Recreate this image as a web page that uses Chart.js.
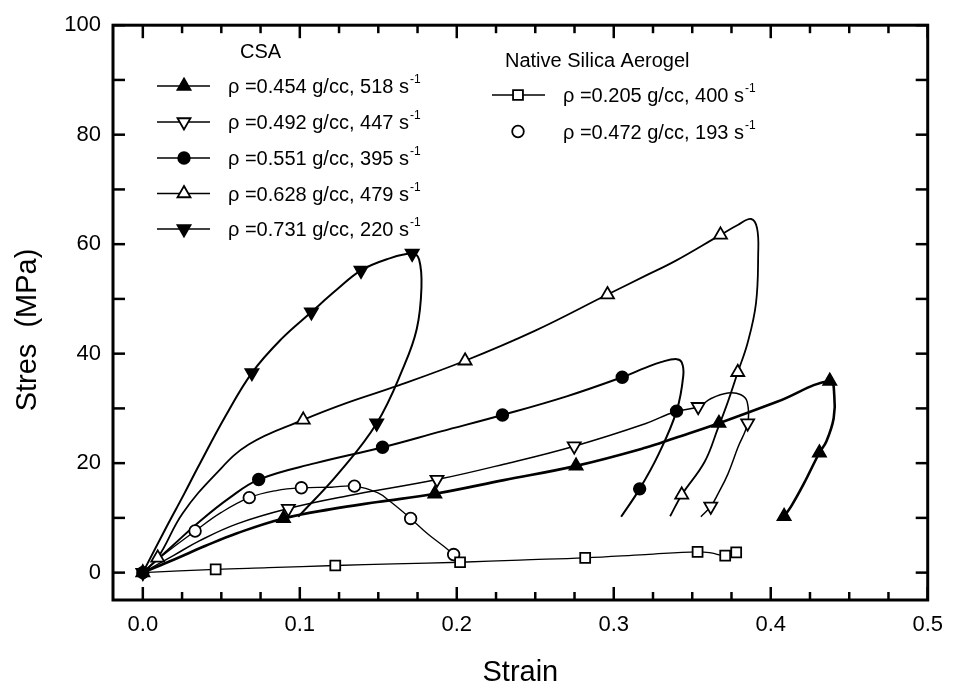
<!DOCTYPE html>
<html>
  <head>
    <title>Stress - Strain, CSA vs Native Silica Aerogel</title>
    <script src="https://cdn.jsdelivr.net/npm/chart.js"></script>
    <style>
      body {
        margin: 0;
        background: #fff;
      }
    </style>
  </head>
  <body>
    <canvas id="ssChart" width="955" height="687"></canvas>

    <script>
      // axis ticks
      const xTicks = [0, 0.1, 0.2, 0.3, 0.4, 0.5];
      const yTicks = [0, 20, 40, 60, 80, 100];

      // legend texts
      const csaLabels = [
        "ρ =0.454 g/cc, 518 s",
        "ρ =0.492 g/cc, 447 s",
        "ρ =0.551 g/cc, 395 s",
        "ρ =0.628 g/cc, 479 s",
        "ρ =0.731 g/cc, 220 s",
      ];
      const nativeLabels = ["ρ =0.205 g/cc, 400 s", "ρ =0.472 g/cc, 193 s"];

      // curves [strain, stress]
      const curve454 = [[0,0],[0.02,2.4],[0.04,4.9],[0.06,7.2],[0.0896,9.9],[0.12,11.6],[0.1495,12.9],[0.186,14.4],[0.23,16.9],[0.276,19.5],[0.32,22.8],[0.339,24.6],[0.367,27.3],[0.404,31.2],[0.4376,35.0],[0.4405,32.3],[0.4401,28.2],[0.4355,24.0],[0.431,21.9],[0.421,16.2],[0.4128,12.0],[0.4085,10.3]];
      const curve492 = [[0,0],[0.02,3.2],[0.036,5.8],[0.06,8.9],[0.0927,11.7],[0.13,14.0],[0.1874,17.0],[0.23,19.8],[0.2748,23.1],[0.32,27.2],[0.339,29.4],[0.3538,30.3],[0.362,31.8],[0.3727,32.8],[0.381,32.5],[0.385,31.2],[0.3853,27.3],[0.379,22.8],[0.3727,18.0],[0.3664,14.4],[0.3618,12.1],[0.3555,10.2]];
      const curve551 = [[0,0],[0.02,5.2],[0.036,9.3],[0.055,13.6],[0.0738,17.0],[0.11,20.0],[0.1527,22.9],[0.19,25.8],[0.2291,28.8],[0.27,32.2],[0.3054,35.7],[0.32,37.4],[0.3306,38.5],[0.34,39.0],[0.3433,38.4],[0.3443,36.0],[0.34,29.5],[0.3285,21.6],[0.3165,15.3],[0.3047,10.2]];
      const curve628 = [[0,0],[0.0095,2.7],[0.0253,10.8],[0.0464,18.0],[0.0674,23.4],[0.1022,27.9],[0.13,31.0],[0.162,34.1],[0.2053,38.7],[0.25,44.2],[0.296,50.8],[0.32,54.2],[0.339,56.9],[0.368,61.7],[0.379,63.5],[0.3875,64.6],[0.3913,62.9],[0.392,58.1],[0.3906,49.2],[0.3853,42.0],[0.379,36.6],[0.3727,31.2],[0.3664,26.4],[0.358,20.3],[0.3433,14.2],[0.3359,10.3]];
      const curve731 = [[0,0],[0.0148,8.2],[0.026,14.2],[0.0358,19.6],[0.0527,28.6],[0.0695,36.5],[0.088,42.6],[0.1074,47.6],[0.124,51.8],[0.139,55.2],[0.155,57.2],[0.1716,58.3],[0.176,57.2],[0.1775,52.1],[0.1745,44.5],[0.166,37.5],[0.149,27.3],[0.1242,18.0],[0.099,10.2]];
      const curve472 = [[0,0],[0.012,3.0],[0.0333,7.6],[0.05,11.0],[0.0678,13.7],[0.085,15.0],[0.101,15.5],[0.12,15.6],[0.1348,15.8],[0.1495,14.6],[0.158,12.9],[0.1706,9.9],[0.181,7.2],[0.1917,4.8],[0.198,3.3]];
      const curve205 = [[0,0],[0.0464,0.6],[0.08,0.9],[0.1226,1.3],[0.16,1.6],[0.2021,1.9],[0.24,2.3],[0.2818,2.7],[0.32,3.3],[0.3534,3.8],[0.362,3.6],[0.371,3.1],[0.378,3.7]];

      // symbol positions on each curve
      const marks454 = [[0,0],[0.0896,9.9],[0.186,14.4],[0.276,19.5],[0.367,27.3],[0.4376,35.0],[0.431,21.9],[0.4085,10.3]];
      const marks492 = [[0.0927,11.7],[0.1874,17.0],[0.2748,23.1],[0.3538,30.3],[0.3853,27.3],[0.3618,12.1]];
      const marks551 = [[0,0],[0.0738,17.0],[0.1527,22.9],[0.2291,28.8],[0.3054,35.7],[0.34,29.5],[0.3165,15.3]];
      const marks628 = [[0.0095,2.7],[0.1022,27.9],[0.2053,38.7],[0.296,50.8],[0.368,61.7],[0.379,36.6],[0.3433,14.2]];
      const marks731 = [[0,0],[0.0695,36.5],[0.1074,47.6],[0.139,55.2],[0.1716,58.3],[0.149,27.3]];
      const marks472 = [[0.0333,7.6],[0.0678,13.7],[0.101,15.5],[0.1348,15.8],[0.1706,9.9],[0.198,3.3]];
      const marks205 = [[0.0464,0.6],[0.1226,1.3],[0.2021,1.9],[0.2818,2.7],[0.3534,3.8],[0.371,3.1],[0.378,3.7]];

      const FONT = "'Liberation Sans', Arial, sans-serif";
      const toXY = (arr) => arr.map(([x, y]) => ({ x: x, y: y }));

      // styling per series
      const series = [
        { curve: curve454, marks: marks454, style: "triangle", rot: 0, fill: "#000", r: 7.5, lw: 2.6 },
        { curve: curve492, marks: marks492, style: "triangle", rot: 180, fill: "#fff", r: 7.5, lw: 1.5 },
        { curve: curve551, marks: marks551, style: "circle", rot: 0, fill: "#000", r: 5.8, lw: 2 },
        { curve: curve628, marks: marks628, style: "triangle", rot: 0, fill: "#fff", r: 7.5, lw: 1.8 },
        { curve: curve731, marks: marks731, style: "triangle", rot: 180, fill: "#000", r: 7.5, lw: 2 },
        { curve: curve205, marks: marks205, style: "rect", rot: 0, fill: "#fff", r: 7, lw: 1.3 },
        { curve: curve472, marks: marks472, style: "circle", rot: 0, fill: "#fff", r: 5.8, lw: 1.3 },
      ];

      const datasets = [];
      series.forEach((s) => {
        datasets.push({
          data: toXY(s.curve),
          showLine: true,
          borderColor: "#000",
          borderWidth: s.lw,
          pointRadius: 0,
          tension: 0.4,
          order: 2,
        });
        datasets.push({
          data: toXY(s.marks),
          showLine: false,
          pointStyle: s.style,
          rotation: s.rot,
          pointRadius: s.r,
          backgroundColor: s.fill,
          borderColor: "#000",
          borderWidth: 1.8,
          order: 1,
        });
      });

      function drawMarker(ctx, s, x, y) {
        ctx.fillStyle = s.fill;
        ctx.strokeStyle = "#000";
        ctx.lineWidth = 1.8;
        Chart.helpers.drawPoint(ctx, { pointStyle: s.style, rotation: s.rot, radius: s.r, borderWidth: 1.8 }, x, y);
      }

      function drawLabel(ctx, text, x, y) {
        ctx.fillStyle = "#000";
        ctx.textBaseline = "alphabetic";
        ctx.textAlign = "left";
        ctx.font = "20px " + FONT;
        ctx.fillText(text, x, y + 7);
        const w = ctx.measureText(text).width;
        ctx.font = "12px " + FONT;
        ctx.fillText("-1", x + w + 1, y - 3);
      }

      const frameAndLegend = {
        id: "frameAndLegend",
        afterDraw(chart) {
          const { ctx, chartArea: a, scales } = chart;
          const xs = scales.x;
          const ys = scales.y;
          ctx.save();
          ctx.strokeStyle = "#000";
          ctx.lineCap = "butt";

          // inward ticks on all four sides
          ctx.lineWidth = 2.5;
          const seg = (x1, y1, x2, y2) => {
            ctx.beginPath();
            ctx.moveTo(x1, y1);
            ctx.lineTo(x2, y2);
            ctx.stroke();
          };
          const xMark = (v, len) => {
            const p = xs.getPixelForValue(v);
            seg(p, a.bottom, p, a.bottom - len);
            seg(p, a.top, p, a.top + len);
          };
          const yMark = (v, len) => {
            const p = ys.getPixelForValue(v);
            seg(a.left, p, a.left + len, p);
            seg(a.right, p, a.right - len, p);
          };
          xTicks.forEach((v, i) => {
            xMark(v, 13);
            if (i < xTicks.length - 1) {
              for (let k = 1; k < 4; k++) xMark(v + ((xTicks[i + 1] - v) * k) / 4, 8);
            }
          });
          yTicks.forEach((v, i) => {
            yMark(v, 12);
            if (i < yTicks.length - 1) yMark((v + yTicks[i + 1]) / 2, 12);
          });

          // frame
          ctx.lineWidth = 3;
          ctx.strokeRect(a.left, a.top, a.right - a.left, a.bottom - a.top);

          // axis titles
          ctx.fillStyle = "#000";
          ctx.font = "29px " + FONT;
          ctx.textAlign = "center";
          ctx.textBaseline = "alphabetic";
          ctx.fillText("Strain", (a.left + a.right) / 2, 681);
          ctx.save();
          ctx.translate(36, 330);
          ctx.rotate(-Math.PI / 2);
          ctx.fillText("Stres  (MPa)", 0, 0);
          ctx.restore();

          // legend: CSA
          ctx.font = "20px " + FONT;
          ctx.textAlign = "left";
          ctx.fillText("CSA", 240, 58);
          const rowsY = [86, 122, 158, 193.5, 229];
          for (let i = 0; i < 5; i++) {
            const y = rowsY[i];
            ctx.lineWidth = 1.5;
            ctx.strokeStyle = "#000";
            seg(157, y, 210, y);
            drawMarker(ctx, series[i], 184, y);
            drawLabel(ctx, csaLabels[i], 228, y);
          }

          // legend: native silica aerogel
          ctx.font = "20px " + FONT;
          ctx.fillStyle = "#000";
          ctx.textAlign = "left";
          ctx.fillText("Native Silica Aerogel", 505, 67);
          ctx.lineWidth = 1.5;
          ctx.strokeStyle = "#000";
          seg(492, 95, 545, 95);
          drawMarker(ctx, series[5], 518, 95);
          drawLabel(ctx, nativeLabels[0], 563, 95);
          drawMarker(ctx, series[6], 518, 131.5);
          drawLabel(ctx, nativeLabels[1], 563, 131.5);

          ctx.restore();
        },
      };

      new Chart(document.getElementById("ssChart"), {
        type: "scatter",
        data: { datasets: datasets },
        options: {
          responsive: false,
          animation: false,
          layout: { padding: { left: 0, top: 16, right: 22, bottom: 0 } },
          plugins: {
            legend: { display: false },
            tooltip: { enabled: false },
          },
          scales: {
            x: {
              type: "linear",
              min: -0.019,
              max: 0.5,
              afterBuildTicks: (s) => {
                s.ticks = xTicks.map((v) => ({ value: v }));
              },
              afterFit: (s) => {
                s.height = 87;
              },
              ticks: {
                callback: (v) => v.toFixed(1),
                font: { family: FONT, size: 22 },
                color: "#000",
                padding: 12,
                maxRotation: 0,
                autoSkip: false,
              },
              grid: { display: false, drawTicks: false },
              border: { display: false },
            },
            y: {
              type: "linear",
              min: -5,
              max: 100,
              afterBuildTicks: (s) => {
                s.ticks = yTicks.map((v) => ({ value: v }));
              },
              afterFit: (s) => {
                s.width = 113;
              },
              ticks: {
                font: { family: FONT, size: 22 },
                color: "#000",
                padding: 12,
                autoSkip: false,
              },
              grid: { display: false, drawTicks: false },
              border: { display: false },
            },
          },
        },
        plugins: [frameAndLegend],
      });
    </script>
  </body>
</html>
